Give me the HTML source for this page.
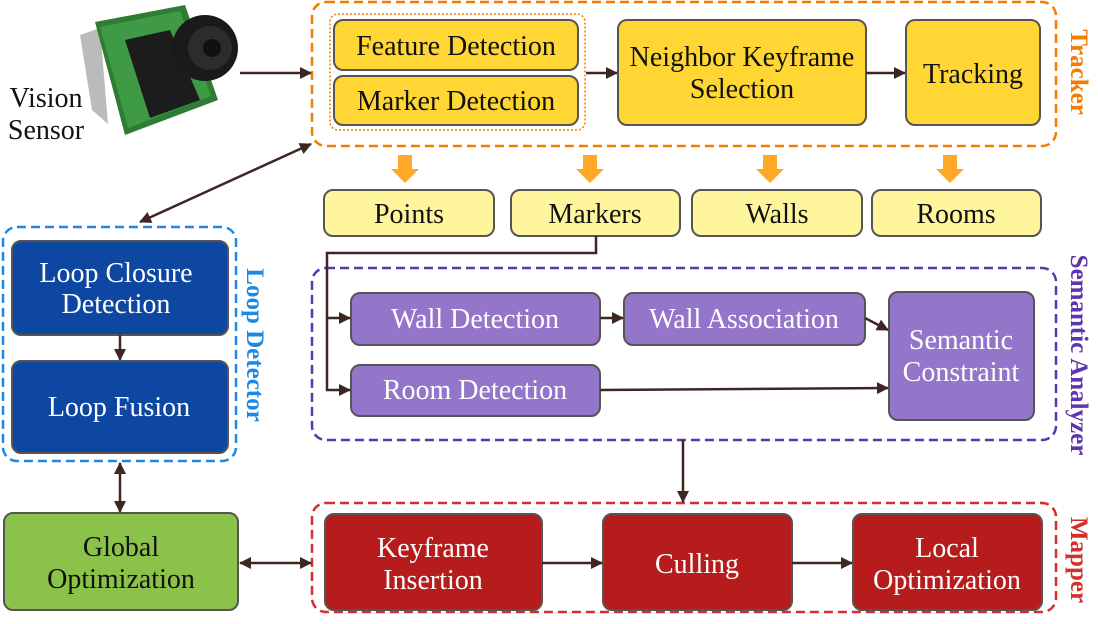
<!DOCTYPE html>
<html><head><meta charset="utf-8"><style>
html,body{margin:0;padding:0;background:#fff;}
svg{display:block;font-family:"Liberation Serif",serif;}
</style></head><body>
<svg width="1098" height="624" viewBox="0 0 1098 624" xmlns="http://www.w3.org/2000/svg">
<defs>
<marker id="a" markerWidth="12" markerHeight="12" refX="11" refY="6" orient="auto-start-reverse" markerUnits="userSpaceOnUse"><path d="M0,0 L12,6 L0,12 z" fill="#3e2723"/></marker>
</defs>
<g fill="none" stroke-width="2.5" stroke-dasharray="9,5">
<rect x="312" y="2" width="744" height="144" rx="14" stroke="#f57c00"/>
<rect x="312" y="268" width="744" height="172" rx="14" stroke="#5e35b1"/>
<rect x="312" y="503" width="744" height="109" rx="14" stroke="#d32f2f"/>
<rect x="3" y="227" width="233" height="234" rx="14" stroke="#1e88e5"/>
</g>
<rect x="330" y="14" width="255" height="116" rx="8" fill="none" stroke="#f57c00" stroke-width="1.5" stroke-dasharray="2,2"/>
<g stroke="#555" stroke-width="2">
<rect x="334" y="20" width="244" height="50" rx="9" fill="#ffd633"/>
<rect x="334" y="76" width="244" height="49" rx="9" fill="#ffd633"/>
<rect x="618" y="20" width="248" height="105" rx="9" fill="#ffd633"/>
<rect x="906" y="20" width="134" height="105" rx="9" fill="#ffd633"/>
<rect x="324" y="190" width="170" height="46" rx="9" fill="#fff59d"/>
<rect x="511" y="190" width="169" height="46" rx="9" fill="#fff59d"/>
<rect x="692" y="190" width="170" height="46" rx="9" fill="#fff59d"/>
<rect x="872" y="190" width="169" height="46" rx="9" fill="#fff59d"/>
<rect x="351" y="293" width="249" height="52" rx="9" fill="#9376c9"/>
<rect x="624" y="293" width="241" height="52" rx="9" fill="#9376c9"/>
<rect x="889" y="292" width="145" height="128" rx="9" fill="#9376c9"/>
<rect x="351" y="365" width="249" height="51" rx="9" fill="#9376c9"/>
<rect x="325" y="514" width="217" height="96" rx="9" fill="#b71c1c"/>
<rect x="603" y="514" width="189" height="96" rx="9" fill="#b71c1c"/>
<rect x="853" y="514" width="189" height="96" rx="9" fill="#b71c1c"/>
<rect x="12" y="241" width="216" height="94" rx="9" fill="#0d47a1"/>
<rect x="12" y="361" width="216" height="92" rx="9" fill="#0d47a1"/>
<rect x="4" y="513" width="234" height="97" rx="9" fill="#8bc34a"/>
</g>
<g fill="#ffa726">
<path d="M398,155h14v14h7l-14,14l-14-14h7z"/>
<path d="M583,155h14v14h7l-14,14l-14-14h7z"/>
<path d="M763,155h14v14h7l-14,14l-14-14h7z"/>
<path d="M943,155h14v14h7l-14,14l-14-14h7z"/>
</g>
<g stroke="#3e2723" stroke-width="2.5" fill="none">
<line x1="240" y1="73" x2="311" y2="73" marker-end="url(#a)"/>
<line x1="586" y1="73" x2="617" y2="73" marker-end="url(#a)"/>
<line x1="866" y1="73" x2="905" y2="73" marker-end="url(#a)"/>
<line x1="140" y1="222" x2="311" y2="144" marker-start="url(#a)" marker-end="url(#a)"/>
<polyline points="596,236 596,253 327,253 327,318 350,318" marker-end="url(#a)"/>
<polyline points="327,318 327,390 350,390" marker-end="url(#a)"/>
<line x1="600" y1="318" x2="623" y2="318" marker-end="url(#a)"/>
<line x1="865" y1="318" x2="888" y2="330" marker-end="url(#a)"/>
<line x1="600" y1="390" x2="888" y2="388" marker-end="url(#a)"/>
<line x1="683" y1="440" x2="683" y2="502" marker-end="url(#a)"/>
<line x1="120" y1="335" x2="120" y2="360" marker-end="url(#a)"/>
<line x1="120" y1="463" x2="120" y2="512" marker-start="url(#a)" marker-end="url(#a)"/>
<line x1="240" y1="563" x2="311" y2="563" marker-start="url(#a)" marker-end="url(#a)"/>
<line x1="542" y1="563" x2="602" y2="563" marker-end="url(#a)"/>
<line x1="792" y1="563" x2="852" y2="563" marker-end="url(#a)"/>
</g>
<!-- camera -->
<g>
<polygon points="80,35 100,28 108,124 92,110" fill="#bbb"/>
<polygon points="95,22 185,5 218,100 125,135" fill="#2e7d32"/>
<polygon points="100,27 180,11 211,96 128,128" fill="#3f9a45"/>
<polygon points="125,40 170,30 200,100 150,118" fill="#1c1c1c"/>
<circle cx="205" cy="48" r="33" fill="#1a1a1a"/>
<circle cx="210" cy="48" r="22" fill="#2c2c2c"/>
<circle cx="212" cy="48" r="9" fill="#111"/>
</g>
<g font-size="28" text-anchor="middle" fill="#111">
<text x="46" y="107">Vision</text>
<text x="46" y="139">Sensor</text>
<text x="456" y="55">Feature Detection</text>
<text x="456" y="110">Marker Detection</text>
<text x="742" y="66">Neighbor Keyframe</text>
<text x="742" y="98">Selection</text>
<text x="973" y="83">Tracking</text>
<text x="409" y="223">Points</text>
<text x="595" y="223">Markers</text>
<text x="777" y="223">Walls</text>
<text x="956" y="223">Rooms</text>
<text x="121" y="556">Global</text>
<text x="121" y="588">Optimization</text>
</g>
<g font-size="28" text-anchor="middle" fill="#fff">
<text x="475" y="328">Wall Detection</text>
<text x="744" y="328">Wall Association</text>
<text x="961" y="349">Semantic</text>
<text x="961" y="381">Constraint</text>
<text x="475" y="399">Room Detection</text>
<text x="433" y="557">Keyframe</text>
<text x="433" y="589">Insertion</text>
<text x="697" y="573">Culling</text>
<text x="947" y="557">Local</text>
<text x="947" y="589">Optimization</text>
<text x="116" y="282">Loop Closure</text>
<text x="116" y="313">Detection</text>
<text x="119" y="416">Loop Fusion</text>
</g>
<g font-size="25" font-weight="bold" text-anchor="middle">
<text transform="translate(1071,72) rotate(90)" fill="#f57c00">Tracker</text>
<text transform="translate(1071,355) rotate(90)" fill="#5e35b1">Semantic Analyzer</text>
<text transform="translate(1071,560) rotate(90)" fill="#d32f2f">Mapper</text>
<text transform="translate(247,345) rotate(90)" fill="#1e88e5">Loop Detector</text>
</g>
</svg>
</body></html>
